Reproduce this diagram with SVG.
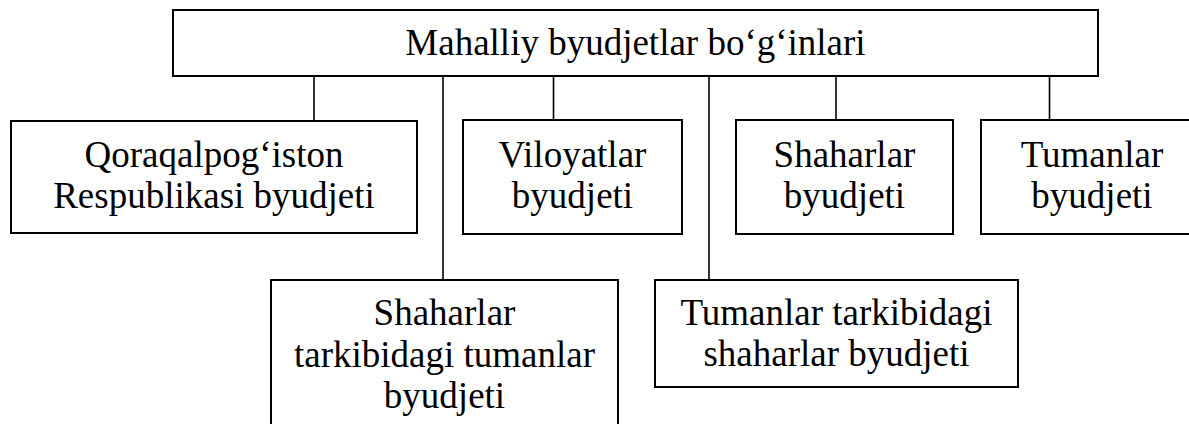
<svg xmlns="http://www.w3.org/2000/svg" width="1189" height="424" viewBox="0 0 1189 424">
<style>
.box{fill:#fff;stroke:#000;stroke-width:2}
.ln{stroke:#000;stroke-width:1.6;fill:none}
text{font-family:"Liberation Serif","Times New Roman",serif;font-size:37px;fill:#000;text-anchor:middle}
</style>
<rect width="1189" height="424" fill="#fff"/>
<g id="connectors">
<line class="ln" x1="314" y1="76" x2="314" y2="121"/>
<line class="ln" x1="443" y1="76" x2="443" y2="280"/>
<line class="ln" x1="553.5" y1="76" x2="553.5" y2="120"/>
<line class="ln" x1="709" y1="76" x2="709" y2="280"/>
<line class="ln" x1="836" y1="76" x2="836" y2="120"/>
<line class="ln" x1="1049.5" y1="76" x2="1049.5" y2="120"/>
</g>
<g id="root">
<rect class="box" x="173" y="10" width="925" height="66"/>
<text x="635.5" y="55">Mahalliy byudjetlar bo‘g‘inlari</text>
</g>
<g id="qoraqalpogiston">
<rect class="box" x="11" y="121" width="406" height="112"/>
<text x="214" y="167">Qoraqalpog‘iston</text>
<text x="214" y="208">Respublikasi byudjeti</text>
</g>
<g id="viloyatlar">
<rect class="box" x="463" y="120" width="219" height="114"/>
<text x="572.5" y="167">Viloyatlar</text>
<text x="572.5" y="208">byudjeti</text>
</g>
<g id="shaharlar">
<rect class="box" x="736" y="120" width="217" height="114"/>
<text x="844.5" y="167">Shaharlar</text>
<text x="844.5" y="208">byudjeti</text>
</g>
<g id="tumanlar">
<rect class="box" x="981" y="120" width="222" height="114"/>
<text x="1092" y="167">Tumanlar</text>
<text x="1092" y="208">byudjeti</text>
</g>
<g id="shaharlar-tarkibidagi">
<rect class="box" x="271" y="280" width="347" height="160"/>
<text x="444.5" y="325">Shaharlar</text>
<text x="444.5" y="367">tarkibidagi tumanlar</text>
<text x="444.5" y="408">byudjeti</text>
</g>
<g id="tumanlar-tarkibidagi">
<rect class="box" x="655" y="280" width="363" height="107"/>
<text x="836.5" y="325">Tumanlar tarkibidagi</text>
<text x="836.5" y="366">shaharlar byudjeti</text>
</g>
</svg>
